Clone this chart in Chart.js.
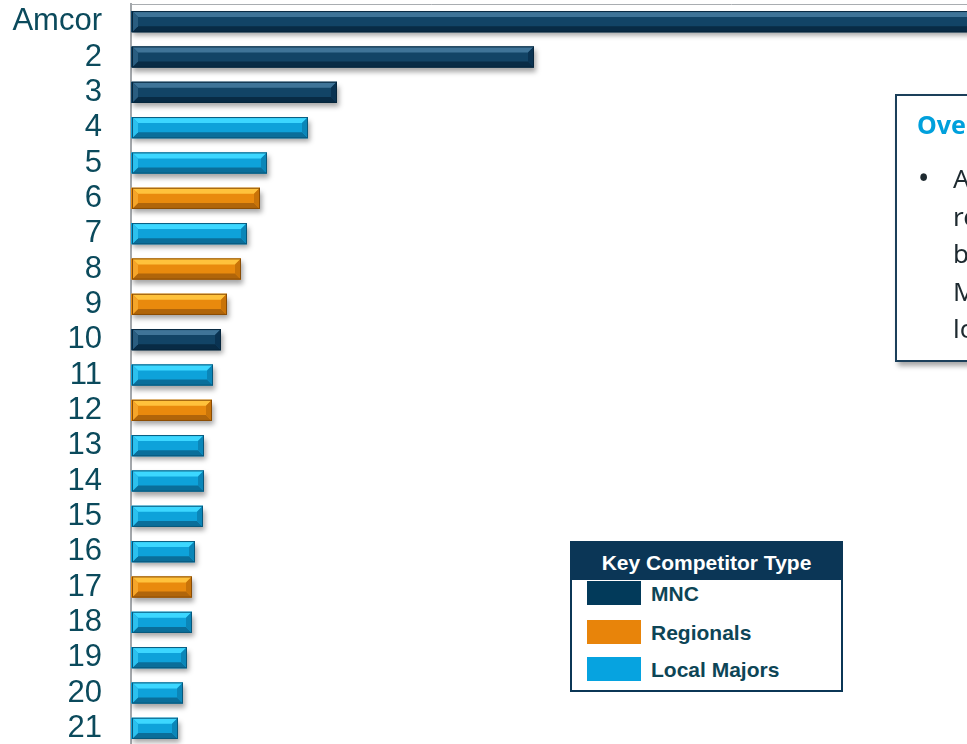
<!DOCTYPE html>
<html>
<head>
<meta charset="utf-8">
<script src="https://cdn.jsdelivr.net/npm/chart.js@4"></script>
<style>
  html, body { margin: 0; padding: 0; background: #fff; overflow: hidden; width: 967px; height: 744px; }
  #wrap { position: absolute; left: 0; top: 0; width: 1331px; height: 746px; }
  .note {
    position: absolute; left: 895px; top: 94px; width: 420px; height: 264px;
    border: 2px solid #1b3f5a; background: #fff;
    box-shadow: 3px 4px 5px rgba(0,0,0,0.35);
    font-family: "Noto Sans", sans-serif; color: #1e2a30;
  }
  .note h3 { position: absolute; left: 20px; top: 11px; margin: 0; font-size: 25px; font-weight: bold; color: #00a0dc; }
  .note .bullet { position: absolute; left: 21px; top: 63px; font-size: 30px; line-height: 37.5px; }
  .note .txt { position: absolute; left: 56px; top: 64px; font-size: 26px; line-height: 37.5px; white-space: nowrap; }
  .key {
    position: absolute; left: 570px; top: 541px; width: 269px; height: 147px;
    border: 2px solid #0b3656; background: #fff;
    font-family: "Liberation Sans", Arial, sans-serif; font-weight: bold;
  }
  .key .head { background: #0b3656; color: #fff; height: 37px; line-height: 40px; text-align: center; font-size: 21px; }
  .key .sw { position: absolute; left: 15px; width: 54px; height: 24px; }
  .key .lb { position: absolute; left: 79px; font-size: 21px; color: #0d4556; line-height: 26px; }
</style>
</head>
<body>
<div id="wrap"><canvas id="c" width="1331" height="746"></canvas></div>

<div class="note">
  <h3>Overview</h3>
  <div class="bullet">•</div>
  <div class="txt">Amcor is the clear leader by<br>revenue, well ahead of<br>both regional players and<br>MNCs, with a long tail of<br>local majors</div>
</div>

<div class="key">
  <div class="head">Key Competitor Type</div>
  <div class="sw" style="top:38px;background:#023a5a"></div><div class="lb" style="top:38px">MNC</div>
  <div class="sw" style="top:77px;background:#e8840a"></div><div class="lb" style="top:77px">Regionals</div>
  <div class="sw" style="top:114px;background:#06a3e0"></div><div class="lb" style="top:114px">Local Majors</div>
</div>

<script>
// competitors ranked by size (Amcor bar runs off the slide)
const labels = ['Amcor', '2', '3', '4', '5', '6', '7', '8', '9', '10', '11',
                '12', '13', '14', '15', '16', '17', '18', '19', '20', '21'];
const values = [100, 40.3, 20.6, 17.7, 13.6, 12.9, 11.6, 11.0, 9.6, 9.0, 8.2,
                 8.1, 7.3, 7.3, 7.2, 6.4, 6.1, 6.1, 5.6, 5.2, 4.7];
const types = ['MNC', 'MNC', 'MNC', 'Local', 'Local', 'Regional', 'Local', 'Regional', 'Regional', 'MNC', 'Local',
               'Regional', 'Local', 'Local', 'Local', 'Local', 'Regional', 'Local', 'Local', 'Local', 'Local'];

const palette = {
  MNC:      {base: '#124466', top: '#3f7498', bot: '#082b45', right: '#0a3352', left: '#2a5d80', line: '#06263d'},
  Regional: {base: '#e98a0d', top: '#ffc23c', bot: '#b0650a', right: '#c97409', left: '#f5a52a', line: '#8a4c04'},
  Local:    {base: '#0ea2da', top: '#3cd7ff', bot: '#0a6e9a', right: '#0b86b8', left: '#2cc0ee', line: '#07587c'}
};

// soft drop shadow under the bars + bevel facets on top
const bevel = {
  id: 'bevel',
  beforeDatasetsDraw(chart) {
    const ctx = chart.ctx;
    ctx.save();
    ctx.shadowColor = 'rgba(0,0,0,0.35)';
    ctx.shadowBlur = 5;
    ctx.shadowOffsetX = 2;
    ctx.shadowOffsetY = 4;
  },
  afterDatasetsDraw(chart) {
    const ctx = chart.ctx;
    ctx.restore();
    const meta = chart.getDatasetMeta(0);
    meta.data.forEach((bar, i) => {
      const p = bar.getProps(['x', 'y', 'base', 'height'], true);
      const c = palette[types[i]];
      const x0 = p.base + 1, x1 = p.x, y0 = p.y - p.height / 2, y1 = p.y + p.height / 2;
      const b = Math.min(6, (x1 - x0) / 2);
      const poly = (pts, col) => {
        ctx.beginPath();
        ctx.moveTo(pts[0][0], pts[0][1]);
        pts.slice(1).forEach(q => ctx.lineTo(q[0], q[1]));
        ctx.closePath();
        ctx.fillStyle = col;
        ctx.fill();
      };
      poly([[x0, y0], [x1, y0], [x1 - b, y0 + b], [x0 + b, y0 + b]], c.top);
      poly([[x0, y1], [x1, y1], [x1 - b, y1 - b], [x0 + b, y1 - b]], c.bot);
      poly([[x1, y0], [x1, y1], [x1 - b, y1 - b], [x1 - b, y0 + b]], c.right);
      poly([[x0, y0], [x0, y1], [x0 + b, y1 - b], [x0 + b, y0 + b]], c.left);
      ctx.strokeStyle = c.line;
      ctx.lineWidth = 1;
      ctx.strokeRect(x0 + 0.5, y0 + 0.5, x1 - x0 - 1, y1 - y0 - 1);
    });
  }
};

new Chart(document.getElementById('c'), {
  type: 'bar',
  data: {
    labels: labels,
    datasets: [{
      data: values,
      backgroundColor: types.map(t => palette[t].base),
      borderWidth: 0,
      barPercentage: 0.6,
      categoryPercentage: 1
    }]
  },
  options: {
    indexAxis: 'y',
    responsive: false,
    animation: false,
    layout: { padding: 0 },
    plugins: { legend: { display: false }, tooltip: { enabled: false } },
    scales: {
      x: {
        position: 'top',
        min: 0, max: 120,
        ticks: { display: false },
        grid: { display: false, drawTicks: false },
        border: { display: true, color: '#a9adb1', width: 1 },
        afterFit: s => { s.height = 4; s.paddingLeft = 0; s.paddingRight = 0; }
      },
      y: {
        ticks: {
          color: '#0b4a5c', padding: 29, autoSkip: false,
          font: { family: '"Liberation Sans", Arial, sans-serif', size: 31 }
        },
        grid: { display: false, drawTicks: false },
        border: { display: true, color: '#a3a7ab', width: 2 },
        afterFit: s => { s.width = 131; s.paddingTop = 0; s.paddingBottom = 0; }
      }
    }
  },
  plugins: [bevel]
});
</script>
</body>
</html>
